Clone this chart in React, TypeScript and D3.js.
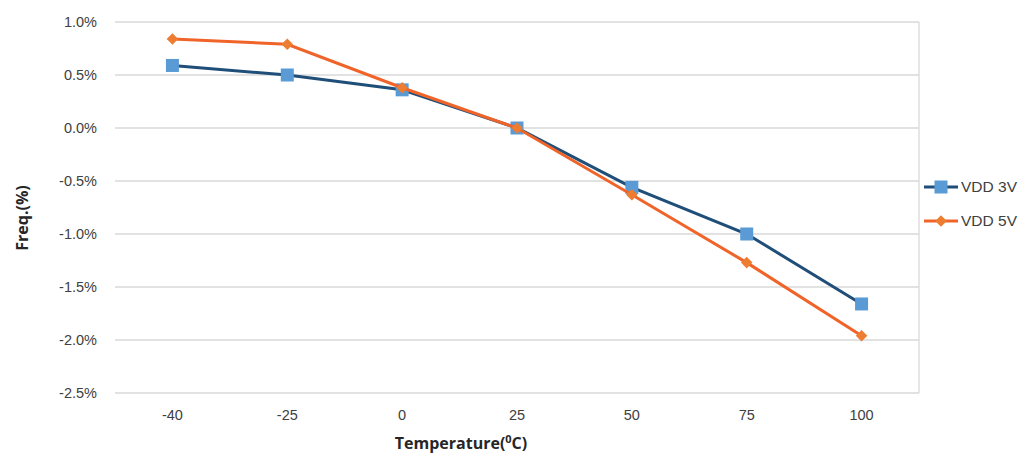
import React from "react";
import * as d3 from "d3";

const categories = ["-40", "-25", "0", "25", "50", "75", "100"];
const vdd3v = [0.59, 0.5, 0.36, 0.0, -0.56, -1.0, -1.66];
const vdd5v = [0.84, 0.79, 0.38, 0.0, -0.63, -1.27, -1.96];
const yTicks = [1.0, 0.5, 0.0, -0.5, -1.0, -1.5, -2.0, -2.5];
const seriesNames = ["VDD 3V", "VDD 5V"];

const W = 1029;
const H = 456;
const plot = { left: 115, right: 919, top: 22, bottom: 393 };

export default function App() {
  const x = d3
    .scaleBand<string>()
    .domain(categories)
    .range([plot.left, plot.right]);
  const y = d3.scaleLinear().domain([-2.5, 1.0]).range([plot.bottom, plot.top]);
  const cx = (c: string) => (x(c) as number) + x.bandwidth() / 2;
  const line = d3
    .line<number>()
    .x((_, i) => cx(categories[i]))
    .y((d) => y(d));
  const fmt = (v: number) => `${v.toFixed(1)}%`;
  const font = "'Liberation Sans', Arial, sans-serif";
  const titleFont = "'Open Sans', 'Liberation Sans', sans-serif";
  const diamond = d3.symbol().type(d3.symbolDiamond2).size(85)() as string;
  const blueLine = "#1f4e79";
  const blueMk = "#5b9bd5";
  const orangeLine = "#f0642a";
  const orangeMk = "#ed7d31";

  return (
    <svg
      width={W}
      height={H}
      style={{ position: "absolute", left: 0, top: 0, background: "#fff" }}
      fontFamily={font}
    >
      {yTicks.map((t) => (
        <g key={t}>
          <line
            x1={plot.left}
            x2={plot.right}
            y1={y(t)}
            y2={y(t)}
            stroke="#d9d9d9"
            strokeWidth={1.3}
          />
          <text
            x={97}
            y={y(t)}
            dy="0.35em"
            textAnchor="end"
            fontSize={14.5}
            fill="#404040"
          >
            {fmt(t)}
          </text>
        </g>
      ))}
      <line
        x1={plot.right}
        x2={plot.right}
        y1={plot.top}
        y2={plot.bottom}
        stroke="#d9d9d9"
        strokeWidth={1.3}
      />
      {categories.map((c) => (
        <text
          key={c}
          x={cx(c)}
          y={420}
          textAnchor="middle"
          fontSize={14.5}
          fill="#404040"
        >
          {c}
        </text>
      ))}
      <text
        x={461}
        y={449}
        textAnchor="middle"
        fontSize={16}
        fontWeight="bold"
        fontFamily={titleFont}
        fill="#262626"
      >
        Temperature(
        <tspan fontSize={11} dy={-6}>
          0
        </tspan>
        <tspan dy={6}>C)</tspan>
      </text>
      <text
        transform={`translate(28,${218}) rotate(-90)`}
        textAnchor="middle"
        fontSize={16}
        fontWeight="bold"
        fontFamily={titleFont}
        fill="#262626"
      >
        Freq.(%)
      </text>

      <path d={line(vdd3v) as string} fill="none" stroke={blueLine} strokeWidth={3} />
      {vdd3v.map((v, i) => (
        <rect
          key={i}
          x={cx(categories[i]) - 6.5}
          y={y(v) - 6.5}
          width={13}
          height={13}
          fill={blueMk}
        />
      ))}
      <path d={line(vdd5v) as string} fill="none" stroke={orangeLine} strokeWidth={3} />
      {vdd5v.map((v, i) => (
        <path
          key={i}
          d={diamond}
          transform={`translate(${cx(categories[i])},${y(v)})`}
          fill={orangeMk}
        />
      ))}

      {seriesNames.map((name, i) => {
        const ly = 187 + i * 34;
        return (
          <g key={name}>
            <line
              x1={924}
              x2={958}
              y1={ly}
              y2={ly}
              stroke={i === 0 ? blueLine : orangeLine}
              strokeWidth={3}
            />
            {i === 0 ? (
              <rect x={934.5} y={ly - 6.5} width={13} height={13} fill={blueMk} />
            ) : (
              <path d={diamond} transform={`translate(941,${ly})`} fill={orangeMk} />
            )}
            <text x={961} y={ly} dy="0.35em" fontSize={15.5} fill="#404040">
              {name}
            </text>
          </g>
        );
      })}
    </svg>
  );
}
